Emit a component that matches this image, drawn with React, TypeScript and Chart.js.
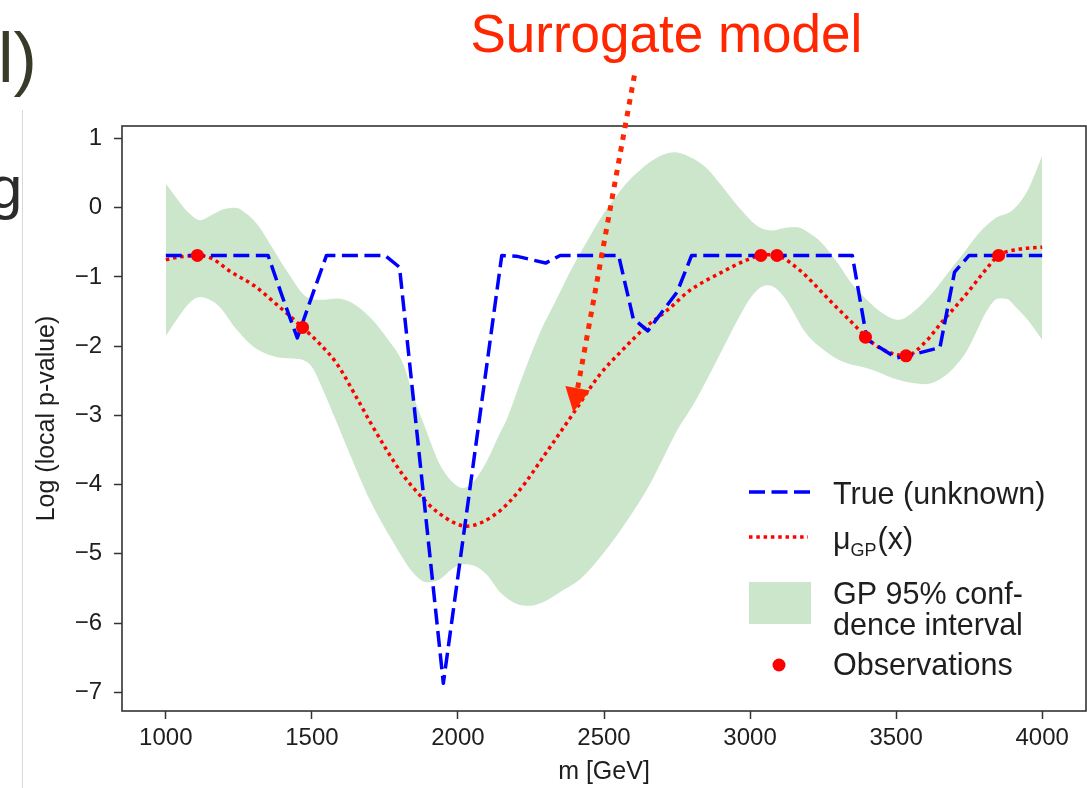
import React, { useEffect, useRef } from 'react';
import { Chart, registerables } from 'chart.js';

Chart.register(...registerables);

const FONT = '"Liberation Sans", Arial, Helvetica, sans-serif';

// Axis ticks and ranges
const X_TICKS = [1000, 1500, 2000, 2500, 3000, 3500, 4000];
const Y_TICKS = [-7, -6, -5, -4, -3, -2, -1, 0, 1];
const X_RANGE: [number, number] = [850, 4150];
const Y_RANGE: [number, number] = [-7.27, 1.18];

// True (unknown) function, [m, log p]
const TRUE_CURVE: [number, number][] = [
  [1000, -0.69], [1350, -0.69], [1400, -1.3], [1450, -1.88], [1500, -1.28], [1550, -0.69],
  [1750, -0.69], [1800, -0.86], [1950, -6.87], [2150, -0.69], [2200, -0.7], [2300, -0.8],
  [2350, -0.69], [2550, -0.69], [2600, -1.6], [2650, -1.78], [2700, -1.5], [2750, -1.22],
  [2800, -0.69], [3350, -0.69], [3400, -1.9], [3500, -2.17], [3550, -2.13], [3650, -2.02],
  [3700, -0.93], [3750, -0.69], [4000, -0.69],
];

// GP mean
const GP_MEAN: [number, number][] = [
  [1000, -0.75], [1050, -0.71], [1108, -0.69], [1160, -0.74], [1220, -0.92], [1300, -1.12],
  [1380, -1.4], [1468, -1.73], [1530, -1.98], [1585, -2.25], [1654, -2.75], [1700, -3.1],
  [1756, -3.5], [1810, -3.85], [1869, -4.15], [1937, -4.42], [2030, -4.6], [2131, -4.42],
  [2211, -4.08], [2297, -3.57], [2395, -2.97], [2484, -2.42], [2560, -2.07], [2644, -1.72],
  [2720, -1.47], [2792, -1.2], [2895, -0.95], [2997, -0.74], [3037, -0.69], [3065, -0.68],
  [3092, -0.69], [3169, -0.9], [3282, -1.38], [3374, -1.77], [3395, -1.87], [3460, -2.06],
  [3534, -2.14], [3600, -1.94], [3657, -1.65], [3738, -1.26], [3806, -0.9], [3851, -0.69],
  [3920, -0.6], [4000, -0.57],
];

// GP 95% confidence band, upper edge
const GP_UPPER: [number, number][] = [
  [1000, 0.35], [1040, 0.12], [1080, -0.08], [1118, -0.18], [1160, -0.1], [1200, -0.02],
  [1237, 0.0], [1280, -0.1], [1320, -0.28], [1356, -0.52], [1420, -0.95], [1482, -1.29],
  [1530, -1.33], [1585, -1.31], [1640, -1.38], [1698, -1.58], [1760, -1.9], [1811, -2.24],
  [1850, -2.75], [1890, -3.2], [1937, -3.7], [1983, -3.97], [2017, -4.05], [2051, -3.97],
  [2100, -3.65], [2143, -3.26], [2166, -3.07], [2220, -2.45], [2279, -1.82], [2340, -1.3],
  [2392, -0.86], [2440, -0.5], [2484, -0.18], [2530, 0.1], [2576, 0.35], [2620, 0.53],
  [2665, 0.68], [2700, 0.76], [2740, 0.8], [2790, 0.74], [2849, 0.58], [2900, 0.33],
  [2963, 0.0], [3031, -0.28], [3076, -0.33], [3120, -0.29], [3157, -0.28], [3200, -0.36],
  [3248, -0.52], [3300, -0.8], [3340, -1.05], [3400, -1.33], [3452, -1.52], [3510, -1.62],
  [3560, -1.5], [3622, -1.24], [3680, -0.93], [3739, -0.61], [3783, -0.37], [3840, -0.15],
  [3897, -0.04], [3950, 0.25], [4000, 0.75],
];

// GP 95% confidence band, lower edge
const GP_LOWER: [number, number][] = [
  [1000, -1.85], [1040, -1.6], [1080, -1.38], [1118, -1.29], [1150, -1.33], [1186, -1.44],
  [1240, -1.75], [1300, -2.01], [1350, -2.12], [1400, -2.17], [1460, -2.19], [1500, -2.3],
  [1540, -2.65], [1580, -3.05], [1619, -3.45], [1698, -4.22], [1778, -4.83], [1846, -5.27],
  [1893, -5.41], [1937, -5.37], [1980, -5.22], [2017, -5.15], [2060, -5.18], [2098, -5.3],
  [2143, -5.55], [2200, -5.72], [2246, -5.75], [2300, -5.68], [2350, -5.55], [2417, -5.37],
  [2500, -4.98], [2587, -4.47], [2650, -4.05], [2700, -3.64], [2750, -3.22], [2805, -2.85],
  [2860, -2.42], [2905, -2.05], [2950, -1.68], [2997, -1.33], [3030, -1.17], [3059, -1.12],
  [3090, -1.17], [3123, -1.33], [3191, -1.81], [3250, -2.05], [3304, -2.2], [3417, -2.34],
  [3510, -2.49], [3600, -2.55], [3657, -2.46], [3700, -2.3], [3738, -2.1], [3780, -1.75],
  [3806, -1.52], [3851, -1.31], [3880, -1.32], [3908, -1.43], [3950, -1.62], [4000, -1.91],
];

// Observations
const OBSERVATIONS: [number, number][] = [
  [1108, -0.69], [1468, -1.73], [3037, -0.69], [3092, -0.69], [3395, -1.87], [3534, -2.14], [3851, -0.69],
];

// Texts
const X_TITLE = 'm [GeV]';
const Y_TITLE = 'Log (local p-value)';
const LEGEND_TRUE = 'True (unknown)';
const LEGEND_MEAN = ['μ', 'GP', '(x)'];
const LEGEND_BAND = ['GP 95% conf-', 'dence interval'];
const LEGEND_OBS = 'Observations';
const ANNOTATION = 'Surrogate model';
const ARROW_FROM: [number, number] = [2604, 1.91];
const ARROW_TO: [number, number] = [2395, -2.95];

const BLUE = '#0000ff';
const RED = '#ff0000';
const BAND = 'rgba(0,128,0,0.2)';
const ANNOT = '#ff2600';
const INK = '#1e1e1e';

const toXY = (arr: [number, number][]) => arr.map(([x, y]) => ({ x, y }));
const fmtY = (v: number) => (v < 0 ? '\u2212' + Math.abs(v) : String(v));

const overlayPlugin = {
  id: 'overlay',
  afterDraw(chart: any) {
    const { ctx, chartArea: a, scales } = chart;
    const xs = scales.x;
    const ys = scales.y;
    ctx.save();

    // frame
    ctx.setLineDash([]);
    ctx.strokeStyle = '#333';
    ctx.lineWidth = 1.6;
    ctx.strokeRect(a.left, a.top, a.right - a.left, a.bottom - a.top);

    // legend
    const hx0 = a.right - 337;
    const hx1 = a.right - 276;
    const tx = a.right - 253;
    ctx.lineCap = 'butt';
    ctx.strokeStyle = BLUE;
    ctx.lineWidth = 3.5;
    ctx.setLineDash([16, 6.5]);
    ctx.beginPath();
    ctx.moveTo(hx0, a.bottom - 219);
    ctx.lineTo(hx1, a.bottom - 219);
    ctx.stroke();
    ctx.strokeStyle = RED;
    ctx.setLineDash([3.5, 3.8]);
    ctx.beginPath();
    ctx.moveTo(hx0, a.bottom - 174);
    ctx.lineTo(hx1 - 2, a.bottom - 174);
    ctx.stroke();
    ctx.setLineDash([]);
    ctx.fillStyle = BAND;
    ctx.fillRect(hx0, a.bottom - 129, hx1 - hx0 + 1, 42);
    ctx.fillStyle = RED;
    ctx.beginPath();
    ctx.arc(a.right - 307, a.bottom - 46, 6.5, 0, Math.PI * 2);
    ctx.fill();

    ctx.fillStyle = INK;
    ctx.textAlign = 'left';
    ctx.textBaseline = 'alphabetic';
    ctx.font = `30.5px ${FONT}`;
    ctx.fillText(LEGEND_TRUE, tx, a.bottom - 207);
    const mb = a.bottom - 162;
    ctx.fillText(LEGEND_MEAN[0], tx, mb);
    const muW = ctx.measureText(LEGEND_MEAN[0]).width;
    ctx.font = `18px ${FONT}`;
    ctx.fillText(LEGEND_MEAN[1], tx + muW, mb + 7);
    const gpW = ctx.measureText(LEGEND_MEAN[1]).width;
    ctx.font = `30.5px ${FONT}`;
    ctx.fillText(LEGEND_MEAN[2], tx + muW + gpW + 1, mb);
    ctx.fillText(LEGEND_BAND[0], tx, a.bottom - 107);
    ctx.fillText(LEGEND_BAND[1], tx, a.bottom - 76);
    ctx.fillText(LEGEND_OBS, tx, a.bottom - 36);

    // annotation arrow
    const p0 = { x: xs.getPixelForValue(ARROW_FROM[0]), y: ys.getPixelForValue(ARROW_FROM[1]) };
    const p1 = { x: xs.getPixelForValue(ARROW_TO[0]), y: ys.getPixelForValue(ARROW_TO[1]) };
    const ang = Math.atan2(p1.y - p0.y, p1.x - p0.x);
    const headLen = 24;
    const headW = 12.5;
    const bx = p1.x - headLen * Math.cos(ang);
    const by = p1.y - headLen * Math.sin(ang);
    ctx.strokeStyle = ANNOT;
    ctx.lineWidth = 5;
    ctx.setLineDash([5.5, 6.5]);
    ctx.beginPath();
    ctx.moveTo(p0.x, p0.y);
    ctx.lineTo(bx, by);
    ctx.stroke();
    ctx.setLineDash([]);
    ctx.fillStyle = ANNOT;
    ctx.beginPath();
    ctx.moveTo(p1.x, p1.y);
    ctx.lineTo(bx + headW * Math.sin(ang), by - headW * Math.cos(ang));
    ctx.lineTo(bx - headW * Math.sin(ang), by + headW * Math.cos(ang));
    ctx.closePath();
    ctx.fill();

    ctx.font = `53px ${FONT}`;
    ctx.textAlign = 'center';
    ctx.fillText(ANNOTATION, p0.x + 32, p0.y - 23);

    ctx.restore();
  },
};

const tickGrid = {
  drawOnChartArea: false,
  drawTicks: true,
  tickLength: 8,
  tickWidth: 1.5,
  tickColor: '#333',
};

export default function App() {
  const ref = useRef<HTMLCanvasElement>(null);

  useEffect(() => {
    const canvas = ref.current;
    if (!canvas) return;
    Chart.defaults.font.family = FONT;
    const chart = new Chart(canvas, {
      type: 'line',
      data: {
        datasets: [
          {
            type: 'scatter',
            label: LEGEND_OBS,
            data: toXY(OBSERVATIONS),
            backgroundColor: RED,
            borderColor: RED,
            pointRadius: 6.5,
            pointBorderWidth: 0,
            order: 0,
          } as any,
          {
            label: LEGEND_TRUE,
            data: toXY(TRUE_CURVE),
            borderColor: BLUE,
            borderWidth: 3.5,
            borderDash: [16, 6.5],
            borderJoinStyle: 'round',
            pointRadius: 0,
            tension: 0,
            fill: false,
            order: 1,
          },
          {
            label: 'μGP(x)',
            data: toXY(GP_MEAN),
            borderColor: RED,
            borderWidth: 3.5,
            borderDash: [3.5, 3.8],
            cubicInterpolationMode: 'monotone',
            pointRadius: 0,
            fill: false,
            order: 2,
          },
          {
            label: 'upper',
            data: toXY(GP_UPPER),
            borderColor: 'rgba(0,0,0,0)',
            borderWidth: 0,
            cubicInterpolationMode: 'monotone',
            pointRadius: 0,
            fill: false,
            order: 3,
          },
          {
            label: 'GP 95% confidence interval',
            data: toXY(GP_LOWER),
            borderColor: 'rgba(0,0,0,0)',
            borderWidth: 0,
            backgroundColor: BAND,
            cubicInterpolationMode: 'monotone',
            pointRadius: 0,
            fill: '-1',
            order: 4,
          },
        ],
      },
      options: {
        responsive: false,
        animation: false,
        devicePixelRatio: 1,
        layout: { autoPadding: false, padding: { left: 0, right: 1, top: 126, bottom: 0 } },
        plugins: {
          legend: { display: false },
          tooltip: { enabled: false },
        },
        scales: {
          x: {
            type: 'linear',
            min: X_RANGE[0],
            max: X_RANGE[1],
            afterBuildTicks: (s: any) => {
              s.ticks = X_TICKS.map((v) => ({ value: v }));
            },
            afterFit: (s: any) => {
              s.height = 77;
              s.paddingLeft = 0;
              s.paddingRight = 0;
            },
            grid: tickGrid,
            border: { display: false },
            ticks: {
              font: { size: 24 },
              color: INK,
              padding: 5,
              maxRotation: 0,
              autoSkip: false,
              callback: (v: any) => String(v),
            },
            title: {
              display: true,
              text: X_TITLE,
              font: { size: 25 },
              color: INK,
              padding: { top: 0, bottom: 1 },
            },
          },
          y: {
            type: 'linear',
            min: Y_RANGE[0],
            max: Y_RANGE[1],
            afterBuildTicks: (s: any) => {
              s.ticks = Y_TICKS.map((v) => ({ value: v }));
            },
            afterFit: (s: any) => {
              s.width = 122;
              s.paddingTop = 0;
              s.paddingBottom = 0;
            },
            grid: tickGrid,
            border: { display: false },
            ticks: {
              font: { size: 24 },
              color: INK,
              padding: 12,
              autoSkip: false,
              callback: (v: any) => fmtY(Number(v)),
            },
            title: {
              display: true,
              text: Y_TITLE,
              font: { size: 25 },
              color: INK,
              padding: { top: 32, bottom: 0 },
            },
          },
        },
      },
      plugins: [overlayPlugin],
    } as any);
    return () => chart.destroy();
  }, []);

  return (
    <div
      style={{
        position: 'absolute',
        left: 0,
        top: 0,
        width: 1087,
        height: 788,
        overflow: 'hidden',
        background: '#ffffff',
      }}
    >
      <div style={{ position: 'absolute', left: 22, top: 110, width: 1, height: 678, background: '#d8d8d8' }} />
      <div
        style={{
          position: 'absolute',
          left: -2,
          top: 23,
          fontFamily: FONT,
          fontSize: 70,
          lineHeight: '70px',
          color: '#3a3a2a',
          whiteSpace: 'pre',
        }}
      >
        l)
      </div>
      <div
        style={{
          position: 'absolute',
          left: -11,
          top: 158,
          fontFamily: FONT,
          fontSize: 60,
          lineHeight: '60px',
          color: '#2b2b2b',
        }}
      >
        g
      </div>
      <canvas
        ref={ref}
        width={1087}
        height={788}
        style={{ position: 'absolute', left: 0, top: 0, display: 'block' }}
      />
    </div>
  );
}
